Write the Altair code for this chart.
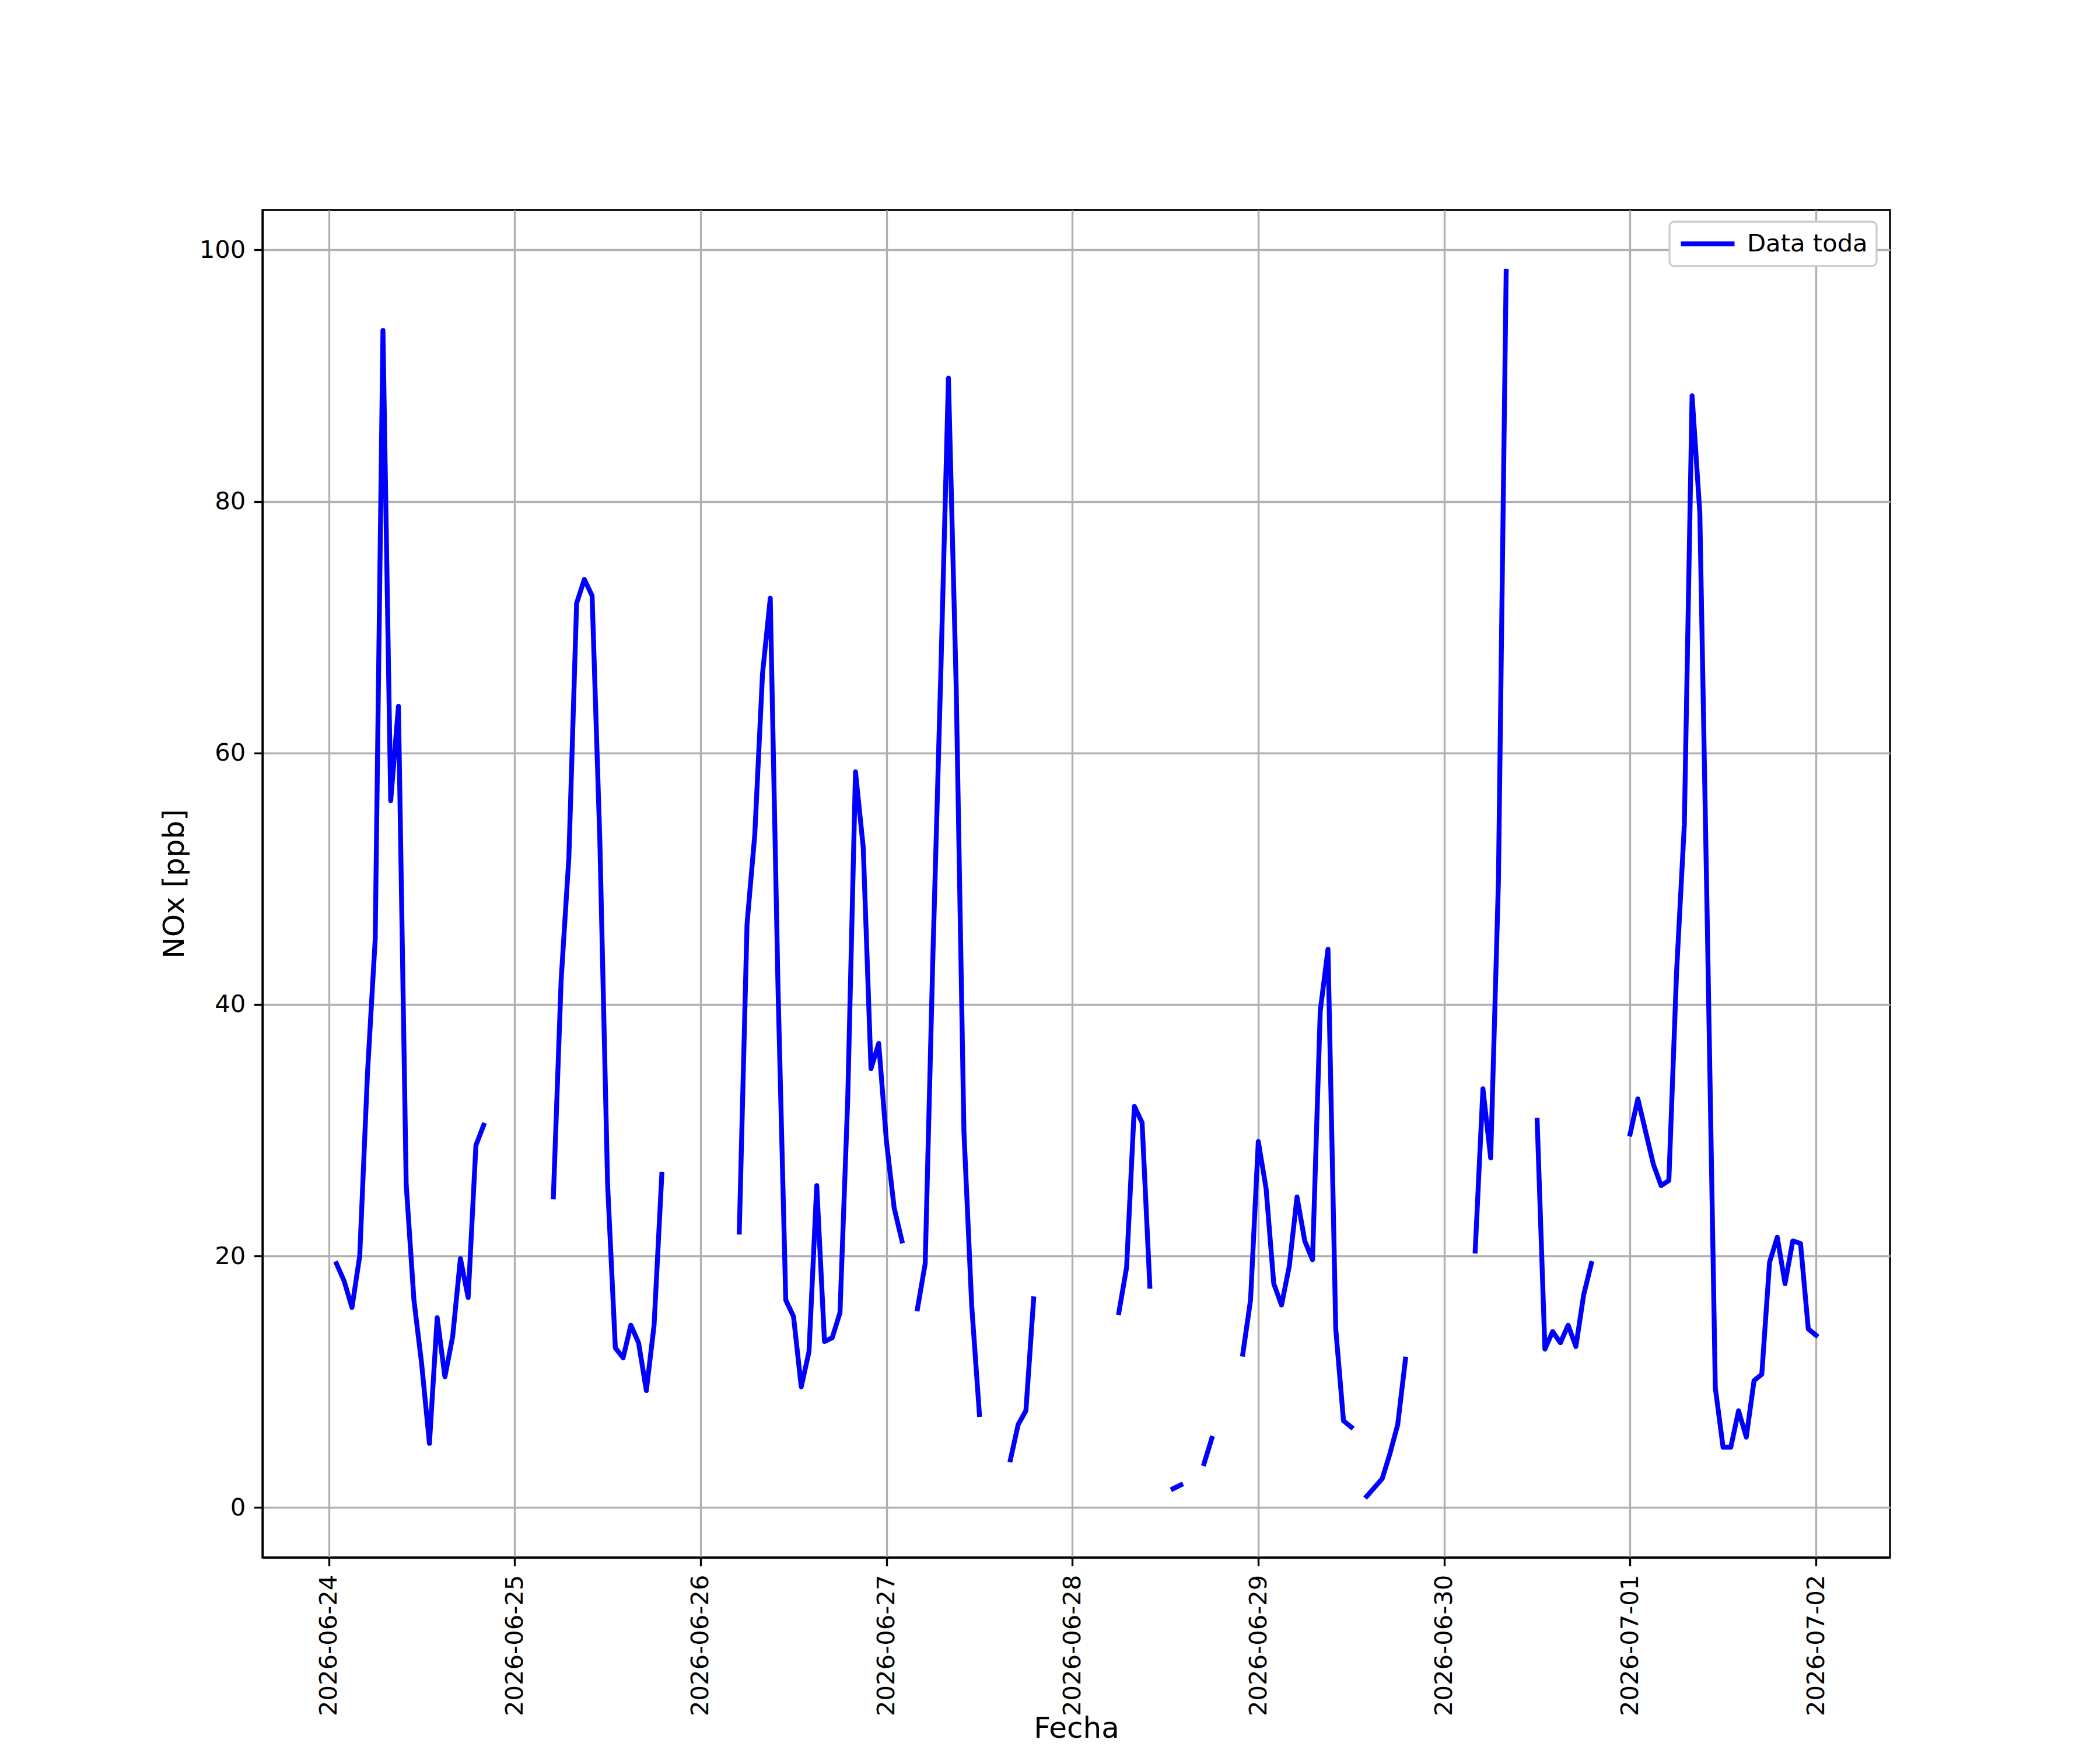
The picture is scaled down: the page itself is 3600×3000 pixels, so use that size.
import altair as alt
import pandas as pd

N = None
# Hourly NOx values (ppb), hours 00..23 for each day; None = no data
DAYS = ["2026-06-24", "2026-06-25", "2026-06-26", "2026-06-27",
        "2026-06-28", "2026-06-29", "2026-06-30", "2026-07-01", "2026-07-02"]
d0624 = [N, 19.4, 18.0, 15.9, 20.0, 34.5, 45.2, 93.6, 56.2, 63.7, 25.7, 16.5,
         11.4, 5.1, 15.1, 10.4, 13.6, 19.8, 16.7, 28.8, 30.4, N, N, N]
d0625 = [N, N, N, N, N, 24.7, 41.9, 51.7, 71.9, 73.8, 72.5, 53.0,
         25.7, 12.7, 11.9, 14.5, 13.1, 9.3, 14.5, 26.5, N, N, N, N]
d0626 = [N, N, N, N, N, 21.9, 46.4, 53.5, 66.3, 72.3, 41.3, 16.5,
         15.2, 9.6, 12.4, 25.6, 13.2, 13.5, 15.5, 32.5, 58.5, 52.5, 34.9, 36.9]
d0627 = [29.1, 23.8, 21.2, N, 15.8, 19.4, 44.0, 66.0, 89.8, 65.3, 29.9, 16.1,
         7.4, N, N, N, 3.8, 6.6, 7.7, 16.6, N, N, N, N]
d0628 = [N, N, N, N, N, N, 15.5, 19.1, 31.9, 30.6, 17.6, N,
         N, 1.5, 1.8, N, N, 3.5, 5.5, N, N, N, 12.2, 16.5]
d0629 = [29.1, 25.4, 17.8, 16.1, 19.2, 24.7, 21.2, 19.7, 39.5, 44.4, 14.2, 6.9,
         6.4, N, 0.9, 1.6, 2.3, 4.3, 6.6, 11.8, N, N, N, N]
d0630 = [N, N, N, N, 20.4, 33.3, 27.8, 49.8, 98.3, N, N, N,
         30.8, 12.6, 14.0, 13.1, 14.5, 12.8, 16.9, 19.4, N, N, N, N]
d0701 = [29.7, 32.5, 29.9, 27.3, 25.6, 26.0, 42.6, 54.3, 88.4, 79.1, 45.2, 9.5,
         4.8, 4.8, 7.7, 5.6, 10.1, 10.6, 19.5, 21.5, 17.8, 21.2, 21.0, 14.2]
d0702 = [13.7]
SERIES = [d0624, d0625, d0626, d0627, d0628, d0629, d0630, d0701, d0702]
LABEL = "Data toda"

rows = []
seg = 0
prev_none = True
for day, vals in zip(DAYS, SERIES):
    for h, v in enumerate(vals):
        if v is None:
            prev_none = True
            continue
        if prev_none:
            seg += 1
            prev_none = False
        rows.append({"fecha": f"{day}T{h:02d}:00:00", "nox": v,
                     "seg": seg, "serie": LABEL})
df = pd.DataFrame(rows)

ticks = [alt.DateTime(year=int(d[:4]), month=int(d[5:7]), date=int(d[8:10]))
         for d in DAYS]
x_lo = alt.DateTime(year=2026, month=6, date=23, hours=15, minutes=27)
x_hi = alt.DateTime(year=2026, month=7, date=2, hours=9, minutes=33)

chart = alt.Chart(df).mark_line(
    strokeWidth=8.33, strokeCap="square", strokeJoin="round", clip=True
).encode(
    x=alt.X("fecha:T",
            scale=alt.Scale(domain=[x_lo, x_hi]),
            axis=alt.Axis(values=ticks, format="%Y-%m-%d", labelAngle=270,
                          labelAlign="right", labelBaseline="middle",
                          labelLimit=0, title="Fecha",
                          titleY=318, titleBaseline="bottom")),
    y=alt.Y("nox:Q",
            scale=alt.Scale(domain=[-3.97, 103.17], nice=False, zero=False),
            axis=alt.Axis(values=[0, 20, 40, 60, 80, 100], title="NOx [ppb]")),
    color=alt.Color("serie:N",
                    scale=alt.Scale(domain=[LABEL], range=["#0000ff"]),
                    legend=alt.Legend(title=None, orient="none",
                                      legendX=2412, legendY=20,
                                      symbolType="stroke", symbolSize=8464,
                                      symbolStrokeWidth=8.33,
                                      labelFontSize=41.7, labelOffset=17,
                                      labelLimit=0, clipHeight=46,
                                      padding=15, strokeColor="#cccccc",
                                      fillColor="#ffffff", cornerRadius=8)),
    detail="seg:N",
).properties(
    width=2790, height=2310,
    autosize=alt.AutoSizeParams(type="none"),
    padding={"left": 442, "top": 352, "right": 352, "bottom": 322},
).configure(
    font="DejaVu Sans"
).configure_axis(
    labelFontSize=41.7, titleFontSize=50, titleFontWeight="normal",
    labelColor="black", titleColor="black",
    tickColor="black", tickWidth=3.33, tickSize=14.6, labelPadding=14.6,
    titlePadding=16.7, grid=True, gridColor="#b0b0b0", gridWidth=3.33,
    domainColor="black", domainWidth=3.33,
).configure_legend(
    strokeWidth=3.3, labelColor="black"
).configure_view(
    stroke="black", strokeWidth=3.33
)

chart.save("out.html", embed_options={"renderer": "svg", "actions": False})
